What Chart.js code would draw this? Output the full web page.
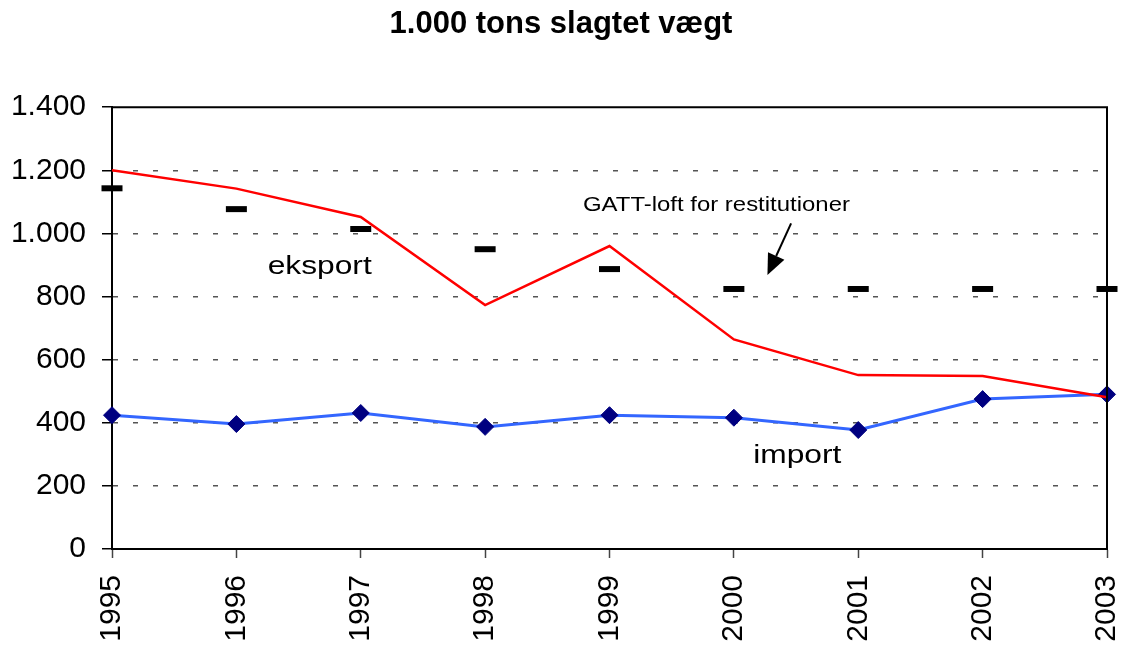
<!DOCTYPE html>
<html>
<head>
<meta charset="utf-8">
<script src="https://cdn.jsdelivr.net/npm/chart.js@4.4.1/dist/chart.umd.min.js"></script>
<style>
  html, body { margin: 0; padding: 0; background: #fff; }
  #wrap { width: 1128px; height: 648px; }
</style>
</head>
<body>
<div id="wrap"><canvas id="chart"></canvas></div>
<script>
// Årstal og serier (1.000 tons slagtet vægt)
const years = ['1995', '1996', '1997', '1998', '1999', '2000', '2001', '2002', '2003'];
const eksport = [1200, 1142, 1052, 773, 960, 664, 551, 548, 481];
const importData = [424, 396, 431, 387, 424, 416, 377, 475, 490];
const gattLoft = [1143, 1077, 1014, 950, 887, 824, 824, 824, 824];
const yTicks = [0, 200, 400, 600, 800, 1000, 1200, 1400];

// Tekster i plottet: x som (brøk)indeks på årsaksen, y i tons
const labels = [
  { text: 'eksport', x: 1.67, y: 872, size: 25, sx: 1.27 },
  { text: 'import', x: 5.51, y: 272, size: 25, sx: 1.27 },
  { text: 'GATT-loft for restitutioner', x: 4.86, y: 1071, size: 21, sx: 1.14 }
];
// Pil fra teksten ned mod loftet
const arrow = { from: [5.46, 1032], to: [5.27, 868] };

const font = "'Liberation Sans', Arial, sans-serif";

function fmt(v) {
  return v.toString().replace(/\B(?=(\d{3})+(?!\d))/g, '.');
}

const extras = {
  id: 'extras',
  afterDatasetsDraw(chart) {
    const { ctx, chartArea: a, scales: { x, y } } = chart;
    ctx.save();
    // ramme rundt om plotområdet
    ctx.strokeStyle = '#000';
    ctx.lineWidth = 2;
    ctx.beginPath();
    ctx.moveTo(a.left, a.top);
    ctx.lineTo(a.right, a.top);
    ctx.lineTo(a.right, a.bottom);
    ctx.stroke();

    ctx.fillStyle = '#000';
    ctx.textAlign = 'center';
    ctx.textBaseline = 'alphabetic';
    labels.forEach(l => {
      ctx.save();
      ctx.translate(x.getPixelForValue(l.x), y.getPixelForValue(l.y));
      ctx.scale(l.sx, 1);
      ctx.font = l.size + 'px ' + font;
      ctx.fillText(l.text, 0, 0);
      ctx.restore();
    });

    // pil
    const x1 = x.getPixelForValue(arrow.from[0]), y1 = y.getPixelForValue(arrow.from[1]);
    const x2 = x.getPixelForValue(arrow.to[0]), y2 = y.getPixelForValue(arrow.to[1]);
    const ang = Math.atan2(y2 - y1, x2 - x1);
    const hl = 21, hw = 9;
    const bx = x2 - hl * Math.cos(ang), by = y2 - hl * Math.sin(ang);
    ctx.lineWidth = 2;
    ctx.beginPath();
    ctx.moveTo(x1, y1);
    ctx.lineTo(bx, by);
    ctx.stroke();
    ctx.beginPath();
    ctx.moveTo(x2, y2);
    ctx.lineTo(bx + hw * Math.sin(ang), by - hw * Math.cos(ang));
    ctx.lineTo(bx - hw * Math.sin(ang), by + hw * Math.cos(ang));
    ctx.closePath();
    ctx.fill();
    ctx.restore();
  }
};

new Chart(document.getElementById('chart'), {
  type: 'line',
  data: {
    labels: years,
    datasets: [
      {
        label: 'eksport',
        data: eksport,
        borderColor: '#ff0000',
        borderWidth: 2.5,
        pointRadius: 0,
        tension: 0
      },
      {
        label: 'import',
        data: importData,
        borderColor: '#3366ff',
        borderWidth: 3,
        pointStyle: 'rectRot',
        pointRadius: 8.5,
        pointBackgroundColor: '#000080',
        pointBorderColor: '#000080',
        pointBorderWidth: 1,
        tension: 0,
        clip: false
      },
      {
        label: 'GATT-loft for restitutioner',
        data: gattLoft,
        showLine: false,
        pointStyle: 'line',
        pointRadius: 10.5,
        pointBorderWidth: 6,
        pointBorderColor: '#000',
        borderColor: '#000',
        clip: false
      }
    ]
  },
  options: {
    responsive: true,
    maintainAspectRatio: false,
    animation: false,
    events: [],
    layout: { autoPadding: false, padding: { left: 8, right: 14, top: 0, bottom: 3 } },
    plugins: {
      legend: { display: false },
      tooltip: { enabled: false },
      title: {
        display: true,
        text: '1.000 tons slagtet vægt',
        color: '#000',
        font: { family: font, size: 31, weight: 'bold' },
        padding: { top: 6, bottom: 64 }
      }
    },
    scales: {
      x: {
        offset: false,
        afterFit: s => { s.paddingLeft = 0; s.paddingRight = 21; s.height = 96; },
        grid: {
          drawOnChartArea: false,
          drawTicks: true,
          tickLength: 9,
          tickColor: '#444',
          tickWidth: 1.5
        },
        border: { display: true, color: '#000', width: 2 },
        ticks: {
          color: '#000',
          font: { family: font, size: 30 },
          minRotation: 90,
          maxRotation: 90,
          padding: 17,
          autoSkip: false
        }
      },
      y: {
        min: 0,
        max: 1400,
        afterBuildTicks: scale => { scale.ticks = yTicks.map(v => ({ value: v })); },
        afterFit: s => { s.width = 104; },
        grid: {
          color: c => (c.tick && (c.tick.value === 0 || c.tick.value === 1400)) ? 'rgba(0,0,0,0)' : '#555',
          lineWidth: 1.5,
          tickLength: 10,
          tickColor: '#000',
          tickWidth: 1.5
        },
        border: { display: true, color: '#000', width: 2, dash: [5, 15] },
        ticks: {
          color: '#000',
          font: { family: font, size: 30 },
          padding: 16,
          callback: v => fmt(v)
        }
      }
    }
  },
  plugins: [extras]
});
</script>
</body>
</html>
